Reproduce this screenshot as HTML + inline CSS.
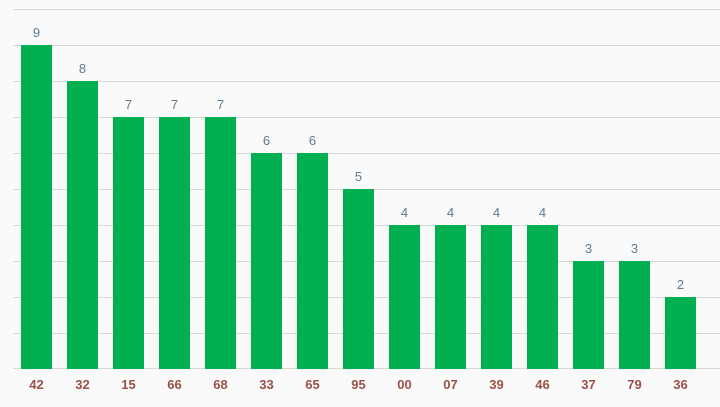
<!DOCTYPE html><html><head><style>body{margin:0;background:#fafafa}</style></head><body>
<svg width="720" height="407" xmlns="http://www.w3.org/2000/svg" style="display:block;font-family:'Liberation Sans',sans-serif">
<rect width="720" height="407" fill="#fafafa"/>
<g stroke="#d9d9d9" stroke-width="1">
<line x1="13" x2="720" y1="9.5" y2="9.5"/><line x1="13" x2="720" y1="45.5" y2="45.5"/><line x1="13" x2="720" y1="81.5" y2="81.5"/><line x1="13" x2="720" y1="117.5" y2="117.5"/><line x1="13" x2="720" y1="153.5" y2="153.5"/><line x1="13" x2="720" y1="189.5" y2="189.5"/><line x1="13" x2="720" y1="225.5" y2="225.5"/><line x1="13" x2="720" y1="261.5" y2="261.5"/><line x1="13" x2="720" y1="297.5" y2="297.5"/><line x1="13" x2="720" y1="333.5" y2="333.5"/><line x1="13" x2="720" y1="368.5" y2="368.5"/>
</g>
<g id="bars"></g>
</svg>
<script>
const d=[["42",9],["32",8],["15",7],["66",7],["68",7],["33",6],["65",6],["95",5],["00",4],["07",4],["39",4],["46",4],["37",3],["79",3],["36",2]];
const ns="http://www.w3.org/2000/svg",g=document.getElementById("bars");
d.forEach(([l,v],i)=>{const x=21+i*46,top=369-v*36;
const r=document.createElementNS(ns,"rect");r.setAttribute("x",x);r.setAttribute("y",top);r.setAttribute("width",31);r.setAttribute("height",369-top);r.setAttribute("fill","#00b050");g.appendChild(r);
const t=document.createElementNS(ns,"text");t.setAttribute("x",x+15.5);t.setAttribute("y",top-8);t.setAttribute("text-anchor","middle");t.setAttribute("font-size","13");t.setAttribute("fill","#5e7a90");t.textContent=v;g.appendChild(t);
const b=document.createElementNS(ns,"text");b.setAttribute("x",x+15.5);b.setAttribute("y",389);b.setAttribute("text-anchor","middle");b.setAttribute("font-size","13");b.setAttribute("font-weight","bold");b.setAttribute("fill","#9c5048");b.textContent=l;g.appendChild(b);});
</script>
</body></html>
